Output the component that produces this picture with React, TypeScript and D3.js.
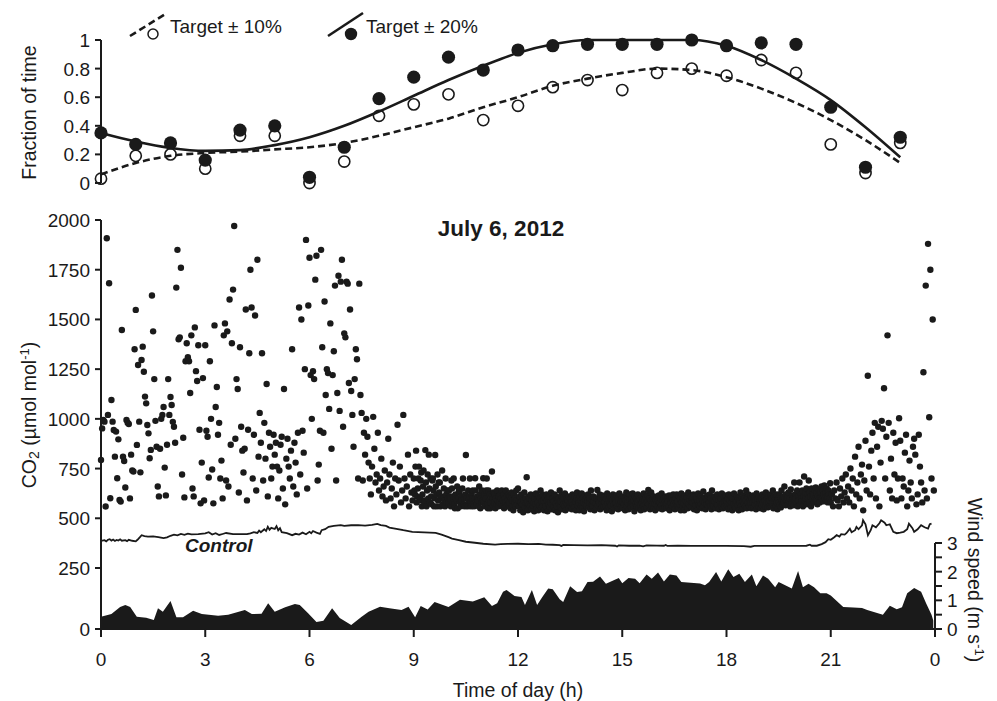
import React from "react";
import * as d3 from "d3";

// top panel: fraction of time within target, hourly
const fracHours = [0, 1, 2, 3, 4, 5, 6, 7, 8, 9, 10, 11, 12, 13, 14, 15, 16, 17, 18, 19, 20, 21, 22, 23];
const within10 = [0.03, 0.19, 0.2, 0.1, 0.33, 0.33, 0.0, 0.15, 0.47, 0.55, 0.62, 0.44, 0.54, 0.67, 0.72, 0.65, 0.77, 0.8, 0.75, 0.86, 0.77, 0.27, 0.07, 0.28];
const within20 = [0.35, 0.27, 0.28, 0.16, 0.37, 0.4, 0.04, 0.25, 0.59, 0.74, 0.88, 0.79, 0.93, 0.96, 0.97, 0.97, 0.97, 1.0, 0.96, 0.98, 0.97, 0.53, 0.11, 0.32];
const fit10 = [0.06, 0.14, 0.19, 0.21, 0.22, 0.235, 0.25, 0.28, 0.33, 0.39, 0.45, 0.53, 0.6, 0.68, 0.73, 0.77, 0.8, 0.79, 0.74, 0.66, 0.56, 0.44, 0.3, 0.14];
const fit20 = [0.35, 0.29, 0.245, 0.225, 0.23, 0.265, 0.32, 0.4, 0.5, 0.61, 0.72, 0.82, 0.91, 0.97, 1.0, 1.0, 1.0, 1.0, 0.96, 0.86, 0.73, 0.58, 0.39, 0.18];

// CO2 in the ring, 3 h per block, readings evenly spaced inside each block
const co2Block0 = [
  793, 952, 994, 986, 559, 1908, 1020, 1682, 601, 1095, 986, 944, 810, 936, 701,
  897, 592, 584, 1447, 810, 788, 655, 994, 981, 974, 600, 820, 740, 735, 1350,
  1548, 869, 1271, 986, 731, 1296, 1363, 1237, 1112, 1078, 969, 927, 802, 844, 1620,
  1440, 1200, 990, 860, 660, 610, 850, 1000, 1020, 1060, 755, 615, 870, 1200, 1020,
  1110, 1070, 985, 960, 880, 1660, 1850, 1400, 1410, 1760, 720, 905, 605, 1290, 1380,
  1310, 1290, 1130, 1420, 650, 610, 1460, 1240, 1190, 1370, 945, 575, 780, 1205, 590,
];
const co2Block1 = [
  1370, 940, 910, 705, 1290, 1000, 745, 575, 1470, 1060, 1160, 920, 980, 700, 790,
  600, 1420, 1480, 690, 1440, 660, 1600, 870, 1380, 1650, 1970, 900, 1200, 1150, 630,
  1360, 960, 840, 730, 850, 1550, 590, 945, 1330, 1750, 1560, 700, 920, 1520, 640,
  1800, 810, 1030, 880, 1330, 690, 980, 800, 1175, 610, 930, 860, 700, 760, 920,
  820, 880, 760, 600, 740, 870, 910, 650, 1150, 570, 800, 900, 760, 700, 840,
  1350, 660, 880, 780, 620, 930, 1560, 720, 1500, 940, 830, 1250, 1900, 650, 1570,
];
const co2Block2 = [
  1810, 1220, 1000, 1240, 1200, 1700, 1820, 690, 770, 940, 1850, 1360, 930, 1590, 1120,
  1250, 1230, 1050, 1480, 850, 1220, 1340, 1670, 690, 1130, 1720, 1040, 1690, 1800, 960,
  1430, 1410, 1690, 1680, 1180, 1550, 1140, 1020, 860, 1200, 1350, 1300, 700, 1680, 1120,
  1030, 690, 930, 820, 1000, 910, 780, 700, 620, 760, 1010, 850, 680, 720, 930,
  640, 700, 800, 610, 660, 740, 590, 680, 900, 720, 600, 650, 780, 560, 700,
  620, 970, 690, 760, 580, 640, 1020, 700, 600, 660, 820, 560, 720, 630, 590,
];
const co2Block3 = [
  700, 640, 620, 760, 840, 580, 610, 650, 700, 760, 590, 600, 690, 730, 560,
  620, 660, 740, 580, 590, 843, 680, 560, 640, 720, 600, 820, 650, 580, 700,
  610, 570, 690, 700, 640, 560, 600, 818, 660, 620, 560, 720, 590, 680, 630,
  680, 560, 600, 610, 740, 570, 600, 650, 590, 560, 700, 620, 580, 640, 600,
  580, 640, 610, 600, 560, 690, 650, 580, 610, 700, 570, 550, 620, 600, 590,
  660, 550, 600, 640, 630, 580, 560, 610, 590, 650, 700, 570, 600, 560, 620,
  818, 600, 570, 560, 640, 590, 610, 700, 580, 560, 620, 600, 640, 570, 560,
  600, 701, 640, 580, 570, 610, 590, 560, 660, 620, 550, 600, 580, 640, 590,
  701, 580, 620, 560, 600, 640, 700, 570, 550, 640, 590, 620, 550, 580, 610,
  735, 600, 560, 630, 580, 620, 550, 600, 570, 640, 590, 560, 610, 580, 620,
  600, 570, 640, 560, 590, 620, 550, 600, 580, 640, 560, 610, 590, 570, 620,
  580, 610, 550, 600, 630, 560, 590, 540, 620, 580, 600, 560, 640, 590, 570,
];
const co2Block4 = [
  650, 590, 560, 610, 540, 580, 620, 570, 600, 530, 590, 630, 555, 600, 575,
  706, 580, 540, 610, 570, 600, 560, 620, 545, 590, 615, 560, 580, 535, 600,
  570, 625, 550, 595, 580, 540, 610, 565, 600, 640, 550, 585, 620, 560, 590,
  540, 605, 575, 560, 620, 590, 535, 600, 570, 610, 555, 580, 630, 545, 595,
  600, 560, 585, 620, 540, 575, 610, 560, 595, 530, 600, 570, 640, 555, 585,
  615, 545, 590, 570, 605, 560, 625, 540, 580, 600, 565, 590, 550, 610, 575,
  560, 600, 580, 545, 620, 570, 595, 555, 610, 585, 540, 600, 630, 565, 590,
  575, 540, 610, 590, 560, 625, 550, 600, 580, 535, 615, 570, 595, 560, 605,
  590, 620, 555, 580, 600, 545, 640, 570, 590, 560, 610, 585, 540, 600, 575,
  550, 600, 642, 565, 590, 580, 620, 545, 600, 570, 555, 615, 590, 560, 605,
  580, 560, 600, 540, 625, 575, 590, 555, 610, 580, 565, 600, 535, 590, 620,
  570, 605, 550, 595, 580, 615, 560, 600, 545, 590, 625, 570, 585, 555, 600,
];
const co2Block5 = [
  585, 550, 610, 570, 600, 540, 590, 630, 560, 580, 605, 545, 595, 620, 570,
  555, 600, 580, 625, 560, 590, 535, 610, 575, 600, 560, 585, 620, 550, 590,
  600, 565, 540, 610, 580, 595, 560, 625, 545, 590, 570, 605, 555, 580, 615,
  642, 570, 600, 545, 590, 630, 560, 580, 600, 550, 610, 575, 540, 595, 570,
  605, 560, 590, 615, 550, 580, 600, 565, 625, 545, 590, 575, 600, 555, 585,
  610, 570, 550, 600, 585, 560, 615, 540, 595, 575, 605, 560, 590, 620, 570,
  590, 545, 600, 575, 620, 560, 585, 550, 610, 570, 600, 540, 625, 580, 560,
  600, 575, 540, 615, 590, 560, 605, 580, 550, 630, 570, 595, 560, 610, 585,
  555, 600, 580, 620, 545, 590, 610, 565, 600, 540, 585, 625, 570, 595, 560,
  610, 570, 600, 550, 590, 635, 560, 580, 605, 545, 595, 570, 615, 560, 590,
  580, 620, 560, 600, 545, 640, 575, 590, 560, 610, 585, 550, 600, 570, 620,
  565, 595, 545, 610, 580, 600, 560, 625, 575, 550, 605, 585, 560, 615, 590,
];
const co2Block6 = [
  585, 560, 600, 545, 620, 575, 590, 555, 610, 580, 540, 600, 570, 625, 560,
  595, 550, 585, 610, 565, 600, 540, 590, 575, 630, 560, 600, 545, 585, 615,
  570, 600, 560, 590, 640, 550, 605, 580, 620, 560, 595, 575, 610, 550, 600,
  580, 615, 555, 600, 570, 590, 545, 625, 580, 600, 560, 610, 575, 590, 550,
  600, 565, 620, 580, 545, 605, 590, 560, 630, 575, 600, 555, 615, 585, 560,
  590, 620, 560, 600, 575, 640, 550, 610, 585, 600, 565, 620, 580, 545, 600,
  580, 620, 565, 600, 555, 640, 590, 570, 610, 580, 660, 600, 565, 620, 590,
  605, 570, 630, 585, 600, 560, 645, 590, 575, 615, 600, 565, 680, 595, 620,
  600, 575, 640, 560, 610, 590, 680, 570, 620, 600, 585, 640, 560, 610, 710,
  590, 630, 600, 650, 570, 620, 600, 690, 580, 630, 610, 560, 650, 600, 620,
  615, 580, 640, 600, 655, 590, 625, 570, 610, 645, 600, 580, 630, 605, 660,
  600, 640, 585, 620, 665, 600, 630, 590, 650, 610, 580, 640, 620, 600, 676,
];
const co2Block7 = [
  580, 620, 560, 640, 600, 680, 590, 560, 650, 610, 700, 580, 630, 720, 600,
  660, 580, 750, 640, 700, 560, 810, 620, 680, 860, 600, 720, 770, 540, 690,
  890, 640, 1217, 760, 620, 840, 930, 700, 980, 600, 860, 960, 560, 780, 990,
  950, 1154, 700, 910, 1420, 980, 640, 800, 600, 930, 720, 880, 590, 700, 1003,
  890, 600, 700, 660, 830, 920, 560, 640, 790, 680, 600, 860, 900, 820, 570,
  620, 920, 760, 680, 580, 1234, 640, 1670, 600, 1880, 1008, 1750, 700, 1500, 640,
];
const co2Blocks = [co2Block0, co2Block1, co2Block2, co2Block3, co2Block4, co2Block5, co2Block6, co2Block7];

// ambient (control) CO2, [hour, umol/mol]
const control = [
  [0, 386], [0.1, 390], [0.15, 384], [0.2, 392], [0.25, 395], [0.3, 388], [0.35, 393], [0.4, 386], [0.45, 391],
  [0.5, 388], [0.55, 394], [0.6, 387], [0.7, 390], [0.75, 385], [0.8, 392], [0.9, 387], [1.0, 384], [1.05, 392],
  [1.12, 405], [1.17, 415], [1.25, 410], [1.35, 408], [1.5, 409], [1.65, 405], [1.8, 400], [1.9, 404], [2.0, 412],
  [2.1, 418], [2.2, 414], [2.3, 421], [2.4, 417], [2.5, 423], [2.6, 419], [2.8, 420], [3.0, 424], [3.1, 430],
  [3.2, 418], [3.3, 425], [3.4, 416], [3.5, 421], [3.6, 426], [3.8, 420], [4.0, 420], [4.2, 420], [4.3, 424],
  [4.4, 430], [4.5, 426], [4.55, 438], [4.6, 430], [4.7, 445], [4.75, 436], [4.8, 457], [4.85, 442], [4.9, 452],
  [5.0, 446], [5.05, 460], [5.1, 440], [5.15, 450], [5.2, 430], [5.35, 425], [5.5, 415], [5.6, 422], [5.7, 418],
  [5.8, 428], [5.9, 420], [6.0, 432], [6.05, 425], [6.1, 436], [6.2, 428], [6.3, 422], [6.35, 440], [6.45, 445],
  [6.55, 457], [6.7, 462], [6.9, 466], [7.0, 462], [7.2, 465], [7.4, 466], [7.6, 463], [7.8, 467], [7.95, 472],
  [8.05, 466], [8.2, 462], [8.3, 453], [8.5, 447], [8.7, 440], [8.96, 432], [9.3, 429], [9.63, 427], [9.8, 418],
  [10.0, 405], [10.1, 398], [10.3, 390], [10.5, 382], [10.76, 377], [11.0, 372], [11.34, 368], [11.5, 370],
  [11.7, 371], [12.0, 372], [12.3, 370], [12.6, 371], [12.8, 368], [13.0, 367], [13.2, 365], [13.25, 361],
  [13.3, 366], [13.6, 365], [14.0, 364], [14.4, 365], [14.8, 362], [14.85, 358], [14.9, 364], [15.2, 362],
  [15.5, 363], [15.6, 359], [15.7, 364], [16.0, 363], [16.2, 362], [16.25, 366], [16.3, 361], [16.6, 362],
  [17.0, 361], [17.5, 361], [18.0, 361], [18.5, 360], [18.7, 357], [18.8, 361], [19.2, 361], [19.6, 361],
  [20.0, 361], [20.3, 362], [20.4, 367], [20.45, 362], [20.6, 362], [20.74, 370], [20.85, 380], [20.93, 395],
  [21.0, 392], [21.1, 405], [21.17, 415], [21.25, 408], [21.3, 420], [21.4, 418], [21.45, 425], [21.55, 448],
  [21.6, 430], [21.7, 440], [21.74, 457], [21.8, 445], [21.9, 465], [21.93, 490], [22.0, 470], [22.07, 415],
  [22.15, 440], [22.2, 465], [22.3, 455], [22.4, 475], [22.45, 490], [22.55, 478], [22.6, 465], [22.7, 470],
  [22.8, 432], [22.9, 425], [23.0, 428], [23.1, 432], [23.2, 445], [23.25, 473], [23.35, 450], [23.4, 432],
  [23.5, 445], [23.6, 465], [23.7, 455], [23.8, 448], [23.85, 470], [23.9, 473],
];

// wind speed, [hour, m/s]
const wind = [
  [0, 0.43], [0.3, 0.52], [0.55, 0.77], [0.7, 0.84], [0.84, 0.77], [1.03, 0.43], [1.3, 0.39], [1.52, 0.31],
  [1.64, 0.72], [1.78, 0.6], [2.0, 0.98], [2.17, 0.41], [2.36, 0.41], [2.65, 0.64], [2.9, 0.52], [3.37, 0.46],
  [3.66, 0.5], [4.14, 0.66], [4.34, 0.52], [4.62, 0.53], [4.81, 0.9], [5.0, 0.6], [5.3, 0.76], [5.58, 0.87],
  [5.72, 0.84], [5.96, 0.55], [6.2, 0.24], [6.4, 0.29], [6.65, 0.72], [6.87, 0.38], [7.2, 0.14], [7.5, 0.43],
  [7.7, 0.6], [8.03, 0.78], [8.3, 0.72], [8.65, 0.66], [8.85, 0.78], [9.04, 0.41], [9.2, 0.8], [9.4, 0.68],
  [9.6, 0.94], [10.0, 0.77], [10.33, 1.02], [10.7, 0.96], [11.03, 1.11], [11.25, 0.8], [11.4, 0.9], [11.57, 1.3],
  [11.67, 1.36], [11.9, 1.15], [12.1, 1.12], [12.2, 0.84], [12.4, 1.36], [12.55, 0.84], [12.7, 1.12], [12.87, 1.41],
  [13.0, 1.39], [13.2, 1.04], [13.3, 0.94], [13.5, 1.49], [13.7, 1.29], [13.84, 1.32], [14.0, 1.64], [14.16, 1.65],
  [14.36, 1.83], [14.53, 1.58], [14.9, 1.78], [15.0, 1.6], [15.18, 1.78], [15.37, 1.75], [15.5, 1.6], [15.7, 1.9],
  [15.85, 1.75], [16.03, 1.97], [16.2, 1.66], [16.37, 1.9], [16.56, 1.87], [16.7, 1.64], [17.24, 1.59], [17.38, 1.53],
  [17.5, 1.64], [17.7, 1.99], [17.85, 1.66], [18.05, 2.08], [18.2, 1.81], [18.37, 1.93], [18.53, 1.64], [18.73, 1.9],
  [18.86, 1.49], [19.05, 1.87], [19.2, 1.75], [19.4, 1.46], [19.5, 1.64], [19.88, 1.41], [20.06, 2.02], [20.2, 1.46],
  [20.36, 1.58], [20.52, 1.46], [20.7, 1.25], [20.88, 1.25], [21.0, 1.17], [21.36, 0.77], [21.65, 0.75], [21.9, 0.73],
  [22.05, 0.66], [22.5, 0.5], [22.7, 0.81], [22.9, 0.69], [23.05, 0.76], [23.2, 1.25], [23.4, 1.43], [23.6, 1.3],
  [23.75, 0.88], [23.9, 0.5], [23.95, 0.3],
];

const fracTicks = [0, 0.2, 0.4, 0.6, 0.8, 1];
const fracLabels = ["0", "0.2", "0.4", "0.6", "0.8", "1"];
const co2Ticks = [0, 250, 500, 750, 1000, 1250, 1500, 1750, 2000];
const hourTicks = [0, 3, 6, 9, 12, 15, 18, 21, 24];
const hourLabels = ["0", "3", "6", "9", "12", "15", "18", "21", "0"];
const windTicks = [0, 0.5, 1, 1.5, 2, 2.5, 3];
const windLabels = [0, 1, 2, 3];

const INK = "#1a1a1a";
const FONT = "'Liberation Sans', Arial, Helvetica, sans-serif";
const TICK_FS = 19;
const TITLE_FS = 19.5;

const x = d3.scaleLinear().domain([0, 24]).range([101, 935]);
const yTop = d3.scaleLinear().domain([0, 1]).range([183, 40]);
const yCo2 = d3.scaleLinear().domain([0, 250, 2000]).range([629, 568, 220]);
const yWind = d3.scaleLinear().domain([0, 3]).range([629, 543]);

const App = () => {
  const fitLine = (vals) =>
    d3.line().x((d, i) => x(fracHours[i])).y((d) => yTop(d)).curve(d3.curveMonotoneX)(vals);

  const controlLine = d3.line().x((d) => x(d[0])).y((d) => yCo2(d[1]))(control);
  const windArea = d3.area().x((d) => x(d[0])).y0(yWind(0)).y1((d) => yWind(d[1]))(wind);

  const co2Points = [];
  co2Blocks.forEach((block, b) => {
    block.forEach((v, i) => co2Points.push([b * 3 + (i * 3) / block.length, v]));
  });

  return (
    <svg width={997} height={701} style={{ position: "absolute", left: 0, top: 0, background: "#fff" }}
      fontFamily={FONT} fill={INK}>
      {/* ---- top panel ---- */}
      <line x1={x(0)} x2={x(0)} y1={yTop(1)} y2={yTop(0)} stroke={INK} strokeWidth={2} />
      {fracTicks.map((t, i) => (
        <g key={"ft" + i}>
          <line x1={x(0) - 6} x2={x(0)} y1={yTop(t)} y2={yTop(t)} stroke={INK} strokeWidth={2} />
          <text x={90} y={yTop(t) + 7} textAnchor="end" fontSize={TICK_FS}>{fracLabels[i]}</text>
        </g>
      ))}
      <text transform={`translate(36,${(yTop(0) + yTop(1)) / 2 + 1}) rotate(-90)`} textAnchor="middle" fontSize={TITLE_FS}>
        Fraction of time
      </text>

      <path d={fitLine(fit10)} fill="none" stroke={INK} strokeWidth={2.6} strokeDasharray="7,4" />
      <path d={fitLine(fit20)} fill="none" stroke={INK} strokeWidth={2.6} />
      {within10.map((v, i) => (
        <circle key={"o" + i} cx={x(fracHours[i])} cy={yTop(v)} r={5.6} fill="none" stroke={INK} strokeWidth={1.6} />
      ))}
      {within20.map((v, i) => (
        <circle key={"f" + i} cx={x(fracHours[i])} cy={yTop(v)} r={6.6} fill={INK} />
      ))}

      {/* legend */}
      <line x1={130} y1={36} x2={167} y2={13} stroke={INK} strokeWidth={2.6} strokeDasharray="7,4" />
      <circle cx={153} cy={34} r={5} fill="#fff" stroke={INK} strokeWidth={1.5} />
      <text x={170} y={33} fontSize={19}>Target ± 10%</text>
      <line x1={328} y1={36} x2={363} y2={13} stroke={INK} strokeWidth={2.6} />
      <circle cx={351} cy={34} r={6.2} fill={INK} />
      <text x={366} y={33} fontSize={19}>Target ± 20%</text>

      {/* ---- main panel ---- */}
      <text x={501} y={236} textAnchor="middle" fontSize={22.5} fontWeight="bold">July 6, 2012</text>

      <path d={windArea} fill={INK} stroke="none" />
      <path d={controlLine} fill="none" stroke={INK} strokeWidth={1.8} />
      <text x={185} y={552} fontSize={19} fontWeight="bold" fontStyle="italic">Control</text>

      {co2Points.map((d, i) => (
        <circle key={"c" + i} cx={x(d[0])} cy={yCo2(d[1])} r={3.2} fill={INK} />
      ))}

      <line x1={x(0)} x2={x(0)} y1={yCo2(2000)} y2={yCo2(0)} stroke={INK} strokeWidth={2} />
      {co2Ticks.map((t) => (
        <g key={"ct" + t}>
          <line x1={x(0) - 6} x2={x(0)} y1={yCo2(t)} y2={yCo2(t)} stroke={INK} strokeWidth={2} />
          <text x={90} y={yCo2(t) + 7} textAnchor="end" fontSize={TICK_FS}>{t}</text>
        </g>
      ))}
      <text transform={`translate(36,415) rotate(-90)`} textAnchor="middle" fontSize={TITLE_FS}>
        CO<tspan fontSize={14} dy={3}>2</tspan><tspan dy={-3}> (µmol mol</tspan>
        <tspan fontSize={13} dy={-7}>-1</tspan><tspan dy={7}>)</tspan>
      </text>

      {/* x axis */}
      <line x1={x(0)} x2={x(24)} y1={629} y2={629} stroke={INK} strokeWidth={2} />
      {hourTicks.map((t, i) => (
        <g key={"ht" + i}>
          <line x1={x(t)} x2={x(t)} y1={629} y2={637} stroke={INK} strokeWidth={2} />
          <text x={x(t)} y={666} textAnchor="middle" fontSize={TICK_FS}>{hourLabels[i]}</text>
        </g>
      ))}
      <text x={518} y={697} textAnchor="middle" fontSize={TITLE_FS}>Time of day (h)</text>

      {/* wind axis */}
      <line x1={x(24)} x2={x(24)} y1={yWind(3)} y2={yWind(0)} stroke={INK} strokeWidth={2} />
      {windTicks.map((t) => (
        <line key={"wt" + t} x1={x(24)} x2={x(24) + 7} y1={yWind(t)} y2={yWind(t)} stroke={INK} strokeWidth={2} />
      ))}
      {windLabels.map((t) => (
        <text key={"wl" + t} x={947} y={yWind(t) + 7} fontSize={TICK_FS}>{t}</text>
      ))}
      <text transform={`translate(968,580) rotate(90)`} textAnchor="middle" fontSize={TITLE_FS}>
        Wind speed (m s<tspan fontSize={13} dy={-7}>-1</tspan><tspan dy={7}>)</tspan>
      </text>
    </svg>
  );
};

export default App;
